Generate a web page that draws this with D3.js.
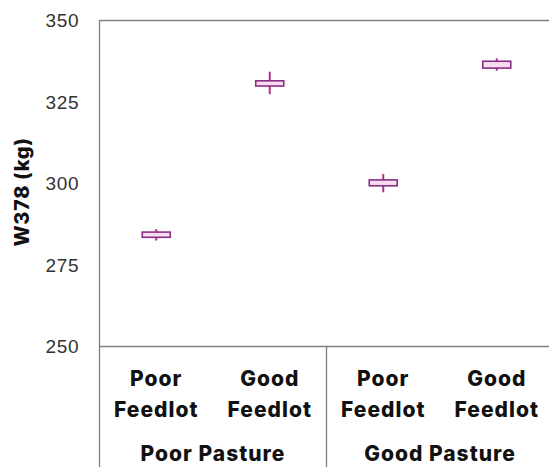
<html>
<head>
<meta charset="UTF-8">
<script src="https://d3js.org/d3.v7.min.js"></script>
<style>
  body { margin: 0; background: #fff; }
  .tick text { font-family: 'Liberation Sans', Arial, sans-serif; }
</style>
</head>
<body>
<svg id="chart" width="549" height="467"></svg>
<script>
// categories
const pastures = ['Poor Pasture', 'Good Pasture'];
const feedlots = ['Poor Feedlot', 'Good Feedlot'];
const groups = ['PP-PF', 'PP-GF', 'GP-PF', 'GP-GF'];
// box values (kg)
const whiskerLow = [282.5, 327.4, 297.3, 334.6];
const boxLow = [283.5, 329.9, 299.3, 335.4];
const boxHigh = [285.1, 331.5, 301.1, 337.5];
const whiskerHigh = [286.0, 334.3, 302.9, 338.4];
const yTicks = [250, 275, 300, 325, 350];

const svg = d3.select('#chart');
const margin = {left: 99.5, top: 20.5};
const plotBottom = 346.5;
const bandW = 113.5;

const x = d3.scaleBand().domain(groups).range([margin.left, margin.left + bandW * 4]);
const y = d3.scaleLinear().domain([250, 350]).range([plotBottom, margin.top]);

const axisColor = '#7f7f7f';

// y axis tick labels
const yAxis = d3.axisLeft(y).tickValues(yTicks).tickSize(0).tickPadding(20);
const gy = svg.append('g').attr('transform', `translate(${margin.left},0)`).call(yAxis);
gy.select('.domain').remove();
gy.selectAll('text').attr('font-size', 19).attr('letter-spacing', 0.8).attr('fill', '#333');

// frame lines
svg.append('line').attr('x1', margin.left).attr('x2', 549).attr('y1', margin.top).attr('y2', margin.top)
   .attr('stroke', axisColor).attr('stroke-width', 1.3);
svg.append('line').attr('x1', margin.left).attr('x2', 549).attr('y1', plotBottom).attr('y2', plotBottom)
   .attr('stroke', axisColor).attr('stroke-width', 1.3);
svg.append('line').attr('x1', margin.left).attr('x2', margin.left).attr('y1', margin.top).attr('y2', 467)
   .attr('stroke', axisColor).attr('stroke-width', 1.3);
svg.append('line').attr('x1', x('GP-PF')).attr('x2', x('GP-PF')).attr('y1', plotBottom).attr('y2', 467)
   .attr('stroke', axisColor).attr('stroke-width', 1.3);

// y label
svg.append('text')
   .attr('transform', 'translate(29,192) rotate(-90)')
   .attr('text-anchor', 'middle')
   .attr('font-family', 'Inter, sans-serif')
   .attr('font-weight', 800)
   .attr('font-size', 20)
   .attr('letter-spacing', 0.6)
   .attr('fill', '#111')
   .text('W378 (kg)');

// category labels
const catLabels = svg.append('g').attr('font-family', 'Inter, sans-serif')
   .attr('font-weight', 800).attr('font-size', 21).attr('letter-spacing', 1)
   .attr('fill', '#111').attr('text-anchor', 'middle');
groups.forEach((g, i) => {
  const cx = x(g) + x.bandwidth() / 2;
  const words = feedlots[i % 2].split(' ');
  catLabels.append('text').attr('x', cx).attr('y', 386).text(words[0]);
  catLabels.append('text').attr('x', cx).attr('y', 417).text(words[1]);
});
pastures.forEach((p, i) => {
  const cx = x(groups[i * 2]) + x.bandwidth();
  catLabels.append('text').attr('x', cx).attr('y', 461).text(p);
});

// boxes
const boxW = 28;
const boxes = svg.append('g').selectAll('g.box').data(groups).join('g').attr('class', 'box');
boxes.append('line')
   .attr('x1', d => x(d) + x.bandwidth() / 2).attr('x2', d => x(d) + x.bandwidth() / 2)
   .attr('y1', (d, i) => y(whiskerHigh[i])).attr('y2', (d, i) => y(whiskerLow[i]))
   .attr('stroke', '#b02d8c').attr('stroke-width', 2);
boxes.append('rect')
   .attr('x', d => x(d) + x.bandwidth() / 2 - boxW / 2)
   .attr('width', boxW)
   .attr('y', (d, i) => y(boxHigh[i]))
   .attr('height', (d, i) => y(boxLow[i]) - y(boxHigh[i]))
   .attr('fill', '#f6dcee').attr('stroke', '#8a2c85').attr('stroke-width', 1.6);
</script>
</body>
</html>
